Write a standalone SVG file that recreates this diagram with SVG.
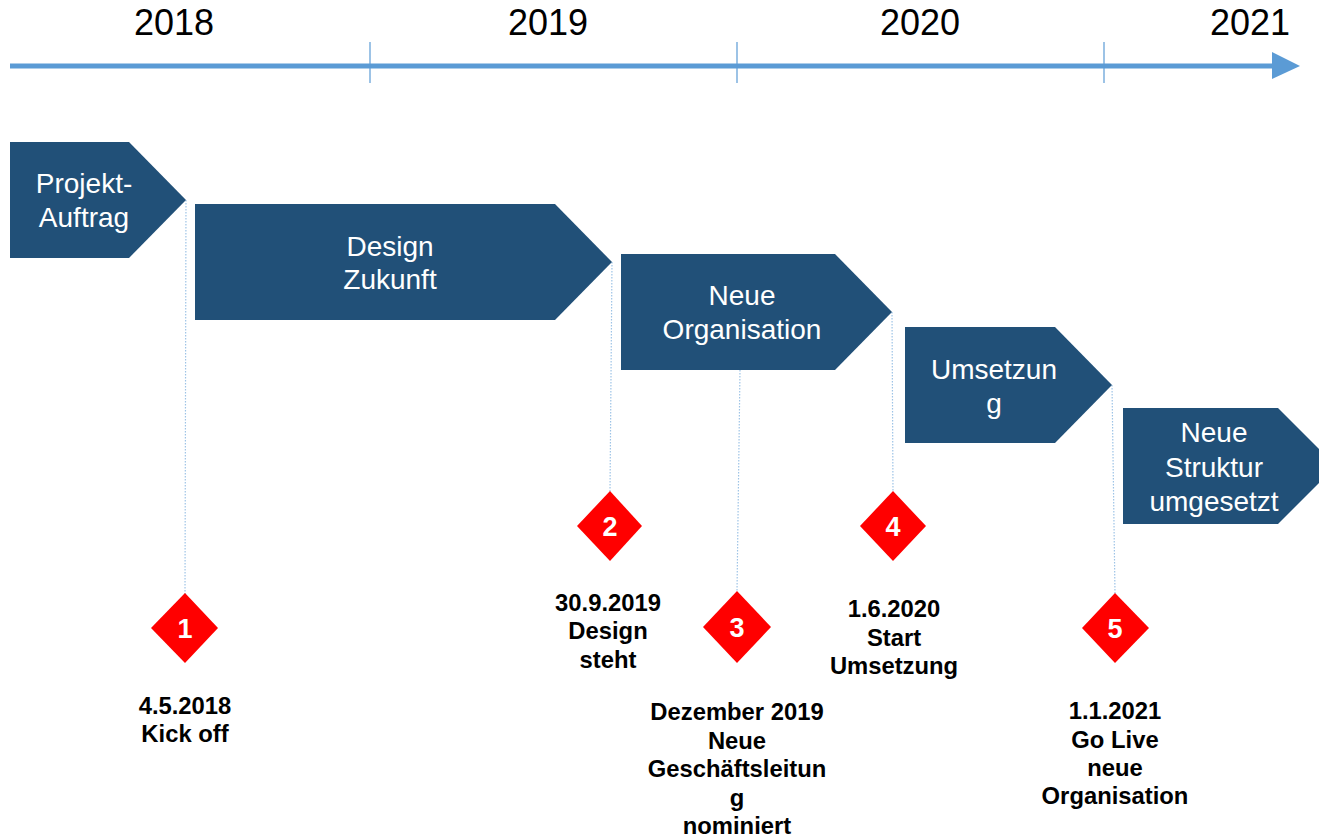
<svg xmlns="http://www.w3.org/2000/svg" width="1319" height="838" viewBox="0 0 1319 838">
<style>
.yr{font-family:"Liberation Sans",Arial,sans-serif;font-size:36px;fill:#000;text-anchor:middle}
.st{font-family:"Liberation Sans",Arial,sans-serif;font-size:28px;fill:#fff;text-anchor:middle}
.num{font-family:"Liberation Sans",Arial,sans-serif;font-size:27px;font-weight:bold;fill:#fff;text-anchor:middle}
.lb{font-family:"Liberation Sans",Arial,sans-serif;font-size:23.8px;font-weight:bold;fill:#000;text-anchor:middle}
.shape{fill:#215078}
.dia{fill:#FF0000}
.tick{stroke:#5B9BD5;stroke-width:1.2}
.con{stroke:#9DC3E6;stroke-width:1.2;stroke-dasharray:1.5 1.5;fill:none}
</style>
<rect width="1319" height="838" fill="#fff"/>
<g id="timeline">
<line x1="10" y1="66" x2="1274" y2="66" stroke="#5B9BD5" stroke-width="5"/>
<polygon points="1272,52 1300,66 1272,79" fill="#5B9BD5"/>
<line class="tick" x1="370" y1="42" x2="370" y2="83"/>
<line class="tick" x1="737" y1="42" x2="737" y2="83"/>
<line class="tick" x1="1104" y1="42" x2="1104" y2="83"/>
<text class="yr" x="174" y="35">2018</text>
<text class="yr" x="548" y="35">2019</text>
<text class="yr" x="920" y="35">2020</text>
<text class="yr" x="1250" y="35">2021</text>
</g>
<g id="connectors">
<line class="con" x1="186" y1="200" x2="185" y2="594"/>
<line class="con" x1="612" y1="262" x2="610" y2="492"/>
<line class="con" x1="740" y1="370" x2="737" y2="592"/>
<line class="con" x1="892" y1="312" x2="893" y2="492"/>
<line class="con" x1="1112" y1="385" x2="1115" y2="594"/>
</g>
<g id="phase1">
<polygon class="shape" points="10,142 129,142 186,200 129,258 10,258"/>
<text class="st" x="84" y="193">Projekt-</text>
<text class="st" x="84" y="227">Auftrag</text>
</g>
<g id="phase2">
<polygon class="shape" points="195,204 555,204 612,262 555,320 195,320"/>
<text class="st" x="390" y="256">Design</text>
<text class="st" x="390" y="289">Zukunft</text>
</g>
<g id="phase3">
<polygon class="shape" points="621,254 835,254 892,312 835,370 621,370"/>
<text class="st" x="742" y="305">Neue</text>
<text class="st" x="742" y="339">Organisation</text>
</g>
<g id="phase4">
<polygon class="shape" points="905,327 1055,327 1112,385 1055,443 905,443"/>
<text class="st" x="994" y="379">Umsetzun</text>
<text class="st" x="994" y="413">g</text>
</g>
<g id="phase5">
<polygon class="shape" points="1123,408 1278,408 1336,466 1278,524 1123,524"/>
<text class="st" x="1214" y="442">Neue</text>
<text class="st" x="1214" y="477">Struktur</text>
<text class="st" x="1214" y="511">umgesetzt</text>
</g>
<g id="milestone1">
<polygon class="dia" points="185,593 218,628 185,663 151,628"/>
<text class="num" x="185" y="638">1</text>
<text class="lb" x="185" y="714">4.5.2018</text>
<text class="lb" x="185" y="742">Kick off</text>
</g>
<g id="milestone2">
<polygon class="dia" points="610,491 642,526 610,561 577,526"/>
<text class="num" x="610" y="536">2</text>
<text class="lb" x="608" y="611">30.9.2019</text>
<text class="lb" x="608" y="639">Design</text>
<text class="lb" x="608" y="668">steht</text>
</g>
<g id="milestone3">
<polygon class="dia" points="737,591 771,627 737,663 703,627"/>
<text class="num" x="737" y="637">3</text>
<text class="lb" x="737" y="720">Dezember 2019</text>
<text class="lb" x="737" y="749">Neue</text>
<text class="lb" x="737" y="777">Geschäftsleitun</text>
<text class="lb" x="737" y="806">g</text>
<text class="lb" x="737" y="834">nominiert</text>
</g>
<g id="milestone4">
<polygon class="dia" points="893,491 926,526 893,561 860,526"/>
<text class="num" x="893" y="536">4</text>
<text class="lb" x="894" y="617">1.6.2020</text>
<text class="lb" x="894" y="646">Start</text>
<text class="lb" x="894" y="674">Umsetzung</text>
</g>
<g id="milestone5">
<polygon class="dia" points="1115,593 1149,628 1115,663 1082,628"/>
<text class="num" x="1115" y="638">5</text>
<text class="lb" x="1115" y="719">1.1.2021</text>
<text class="lb" x="1115" y="748">Go Live</text>
<text class="lb" x="1115" y="776">neue</text>
<text class="lb" x="1115" y="804">Organisation</text>
</g>
</svg>
